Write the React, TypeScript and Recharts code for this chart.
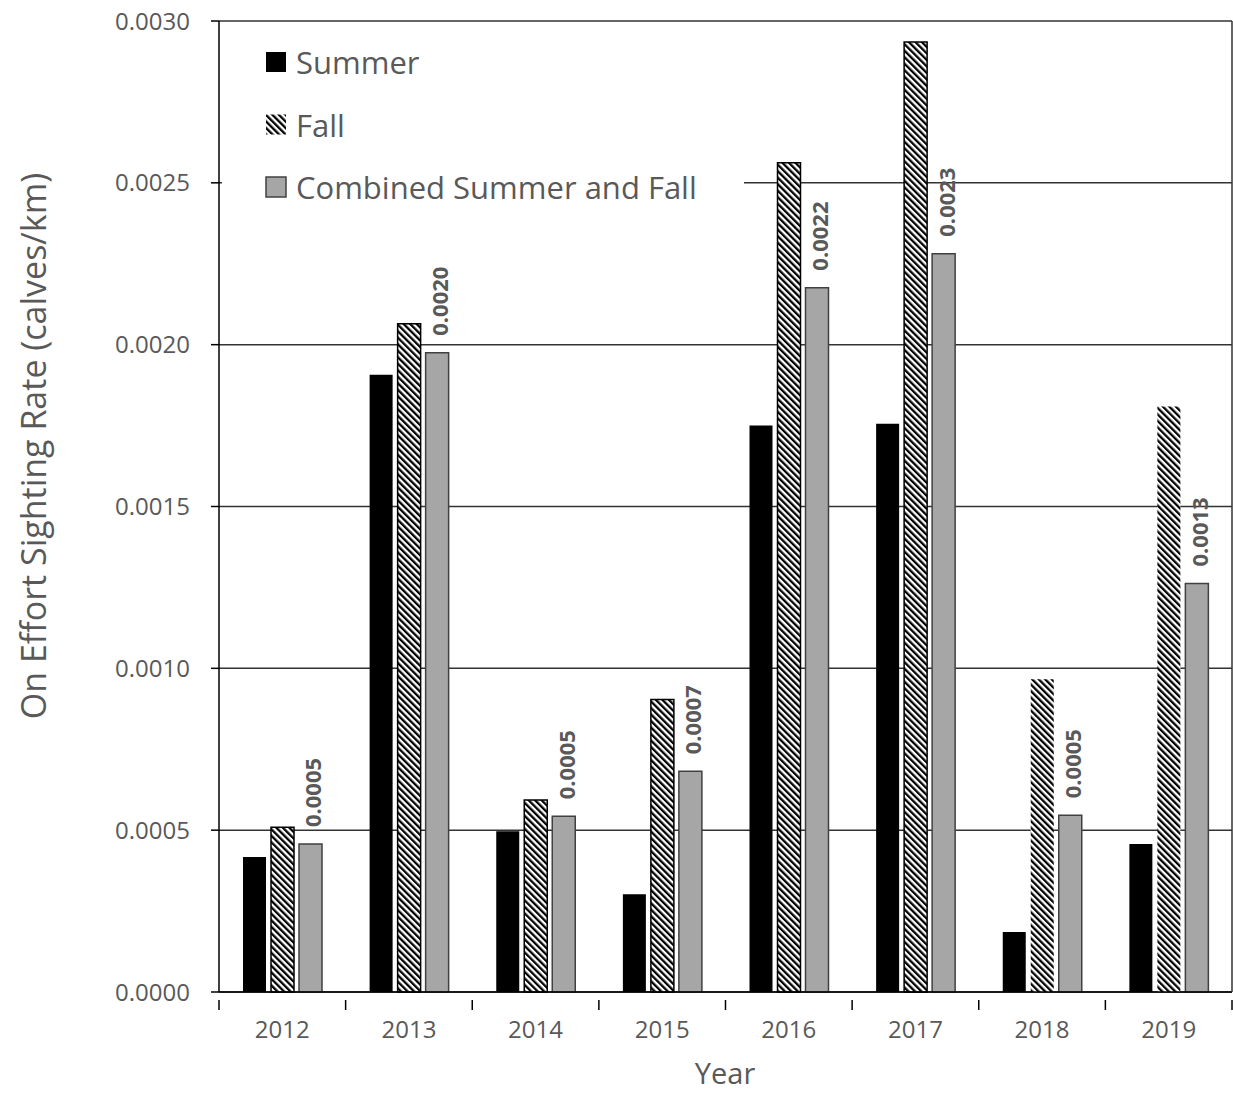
import {
  BarChart,
  Bar,
  XAxis,
  YAxis,
  CartesianGrid,
  Legend,
  LabelList,
  Cell,
} from "recharts";

const years = ["2012", "2013", "2014", "2015", "2016", "2017", "2018", "2019"];
const summer = [0.000417, 0.001907, 0.000497, 0.000302, 0.00175, 0.001756, 0.000185, 0.000457];
const fall = [0.000509, 0.002065, 0.000593, 0.000904, 0.002562, 0.002935, 0.000966, 0.001809];
const combined = [0.000457, 0.001975, 0.000543, 0.000682, 0.002176, 0.002281, 0.000546, 0.001262];
const yTicks = [0, 0.0005, 0.001, 0.0015, 0.002, 0.0025, 0.003];
// fall bars drawn without an outline in the original
const fallNoOutline = ["2018", "2019"];

const data = years.map((y, i) => ({
  year: y,
  summer: summer[i],
  fall: fall[i],
  combined: combined[i],
}));

const FONT = "'Open Sans', sans-serif";
const GREY_TEXT = "#595959";
const HALF_BAND = (1232 - 219) / 8 / 2;

const XTick = (props: any) => {
  const { x, y, payload, index } = props;
  return (
    <g>
      <line x1={x - HALF_BAND} x2={x - HALF_BAND} y1={y} y2={y + 10} stroke="#000" strokeWidth={1.5} />
      {index === years.length - 1 && (
        <line x1={x + HALF_BAND} x2={x + HALF_BAND} y1={y} y2={y + 10} stroke="#000" strokeWidth={1.5} />
      )}
      <text x={x} y={y + 38} textAnchor="middle" fill={GREY_TEXT} fontSize={24} fontFamily={FONT}>
        {payload.value}
      </text>
    </g>
  );
};

const ValueLabel = (props: any) => {
  const { x, y, width, value } = props;
  const cx = x + width / 2 + 2;
  const cy = y - 17;
  return (
    <text
      x={cx}
      y={cy}
      transform={`rotate(-90 ${cx} ${cy})`}
      textAnchor="start"
      dominantBaseline="central"
      fill={GREY_TEXT}
      fontSize={22}
      fontWeight="bold"
      fontFamily={FONT}
    >
      {Number(value).toFixed(4)}
    </text>
  );
};

const LegendBox = () => {
  const rows = [
    { name: "Summer", fill: "#000", stroke: "none" },
    { name: "Fall", fill: "url(#hatch)", stroke: "none" },
    { name: "Combined Summer and Fall", fill: "#a6a6a6", stroke: "#404040" },
  ];
  return (
    <svg width={522} height={180} style={{ display: "block", background: "#fff" }}>
      {rows.map((r, i) => (
        <g key={r.name} transform={`translate(43, ${12 + i * 62.5})`}>
          <rect x={1} y={12} width={20} height={20} fill={r.fill} stroke={r.stroke} strokeWidth={1.5} />
          <text x={31} y={22} dominantBaseline="central" fill={GREY_TEXT} fontSize={31} fontFamily={FONT}>
            {r.name}
          </text>
        </g>
      ))}
    </svg>
  );
};

export default function App() {
  return (
    <div style={{ position: "absolute", left: 0, top: 0 }}>
      <BarChart
        width={1233}
        height={1094}
        data={data}
        margin={{ top: 21, right: 0, bottom: 42, left: 0 }}
        barSize={23}
        barGap={5}
      >
        <defs>
          <pattern id="hatch" patternUnits="userSpaceOnUse" width={4.6} height={4.6} patternTransform="rotate(-45)">
            <rect x={0} y={0} width={4.6} height={4.6} fill="#fff" />
            <rect x={0} y={0} width={2.3} height={4.6} fill="#000" />
          </pattern>
        </defs>
        <CartesianGrid vertical={false} stroke="#333" strokeWidth={1.5} yAxisId="left" />
        <XAxis
          dataKey="year"
          height={60}
          tickLine={false}
          axisLine={{ stroke: "#000", strokeWidth: 1.5 }}
          tick={<XTick />}
          interval={0}
          label={{
            content: () => (
              <text x={725} y={1072} textAnchor="middle" dominantBaseline="central" fill={GREY_TEXT} fontSize={29} fontFamily={FONT}>
                Year
              </text>
            ),
          }}
        />
        <YAxis
          yAxisId="left"
          width={219}
          domain={[0, 0.003]}
          ticks={yTicks}
          tickFormatter={(v: number) => v.toFixed(4)}
          tick={{ fill: GREY_TEXT, fontSize: 24, fontFamily: FONT }}
          tickSize={8}
          tickMargin={21}
          tickLine={{ stroke: "#000", strokeWidth: 1.5 }}
          axisLine={{ stroke: "#000", strokeWidth: 1.5 }}
          label={{
            content: () => (
              <text
                x={33}
                y={446}
                transform="rotate(-90 33 446)"
                textAnchor="middle"
                dominantBaseline="central"
                fill={GREY_TEXT}
                fontSize={34}
                fontFamily={FONT}
              >
                On Effort Sighting Rate (calves/km)
              </text>
            ),
          }}
        />
        <YAxis
          yAxisId="right"
          orientation="right"
          width={1}
          domain={[0, 0.003]}
          tick={false}
          tickLine={false}
          axisLine={{ stroke: "#333", strokeWidth: 1.5 }}
        />
        <Legend
          content={<LegendBox />}
          layout="vertical"
          align="center"
          verticalAlign="middle"
          wrapperStyle={{ position: "absolute", left: 222, top: 28, width: 522 }}
        />
        <Bar yAxisId="left" dataKey="summer" name="Summer" fill="#000" isAnimationActive={false} />
        <Bar yAxisId="left" dataKey="fall" name="Fall" fill="url(#hatch)" stroke="#000" strokeWidth={1.5} isAnimationActive={false}>
          {data.map((d) => (
            <Cell key={d.year} stroke={fallNoOutline.includes(d.year) ? "none" : "#000"} />
          ))}
        </Bar>
        <Bar yAxisId="left" dataKey="combined" name="Combined Summer and Fall" fill="#a6a6a6" stroke="#404040" strokeWidth={1.5} isAnimationActive={false}>
          <LabelList dataKey="combined" content={<ValueLabel />} />
        </Bar>
      </BarChart>
    </div>
  );
}
